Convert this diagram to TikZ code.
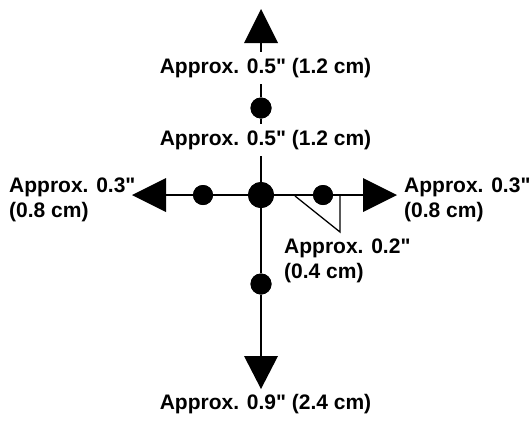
\documentclass[tikz,border=0pt]{standalone}
\usepackage{fontspec}
\setmainfont{Liberation Sans}[Ligatures=TeXOff]
\begin{document}
\begin{tikzpicture}[x=1pt,y=-1pt,
  lbl/.style={font=\fontsize{21}{25}\selectfont\bfseries, inner sep=1pt},
  lblw/.style={lbl, fill=white, inner xsep=2pt, inner ysep=6pt},
  dot/.style={circle, fill=black, inner sep=0pt, minimum size=#1},
  ln/.style={line width=1.6pt},
  tri/.style={fill=black}]
\useasboundingbox (0,0) rectangle (532,421);
% dots
\node[dot=26pt] (C) at (261,195) {};
\node[dot=21pt] (T) at (261,108) {};
\node[dot=21pt] (B) at (261,284) {};
\node[dot=20pt] (L) at (203,195) {};
\node[dot=20pt] (R) at (323,195) {};
% arrow coordinates
\coordinate (tT) at (261,9);   \coordinate (bT) at (261,43);
\coordinate (tB) at (261,389); \coordinate (bB) at (261,356);
\coordinate (tL) at (132,195); \coordinate (bL) at (166,195);
\coordinate (tR) at (397,195); \coordinate (bR) at (363,195);
% lines
\draw[ln] (bT) -- (T) -- (C) -- (B) -- (bB);
\draw[ln] (bL) -- (L) -- (C) -- (R) -- (bR);
% arrowheads
\fill[tri] (tT) -- ([xshift=-17pt]bT) -- ([xshift=17pt]bT) -- cycle;
\fill[tri] (tB) -- ([xshift=-17pt]bB) -- ([xshift=17pt]bB) -- cycle;
\fill[tri] (tL) -- ([yshift=-17pt]bL) -- ([yshift=17pt]bL) -- cycle;
\fill[tri] (tR) -- ([yshift=-17pt]bR) -- ([yshift=17pt]bR) -- cycle;
% dots on top
\node[dot=26pt] at (C) {};
\node[dot=21pt] at (T) {};
\node[dot=21pt] at (B) {};
\node[dot=20pt] at (L) {};
\node[dot=20pt] at (R) {};
% right-angle triangle
\coordinate (a1) at (295,196);
\coordinate (a2) at (340,232);
\coordinate (a3) at (340,196);
\draw[line width=1.3pt, line join=miter] (a1) -- (a2) -- (a3);
% labels
\node[lblw] (l1) at (265.5,68) {Approx. 0.5" (1.2 cm)};
\node[lblw] (l2) at (265.5,140) {Approx. 0.5" (1.2 cm)};
\node[lbl] (l3) at (265.5,404) {Approx. 0.9" (2.4 cm)};
\node[lbl, align=left, anchor=west] (l4) at (8,200) {Approx. 0.3"\\(0.8 cm)};
\node[lbl, align=left, anchor=west] (l5) at (403,200) {Approx. 0.3"\\(0.8 cm)};
\node[lbl, align=left, anchor=west] (l6) at (283,261) {Approx. 0.2"\\(0.4 cm)};
\end{tikzpicture}
\end{document}
